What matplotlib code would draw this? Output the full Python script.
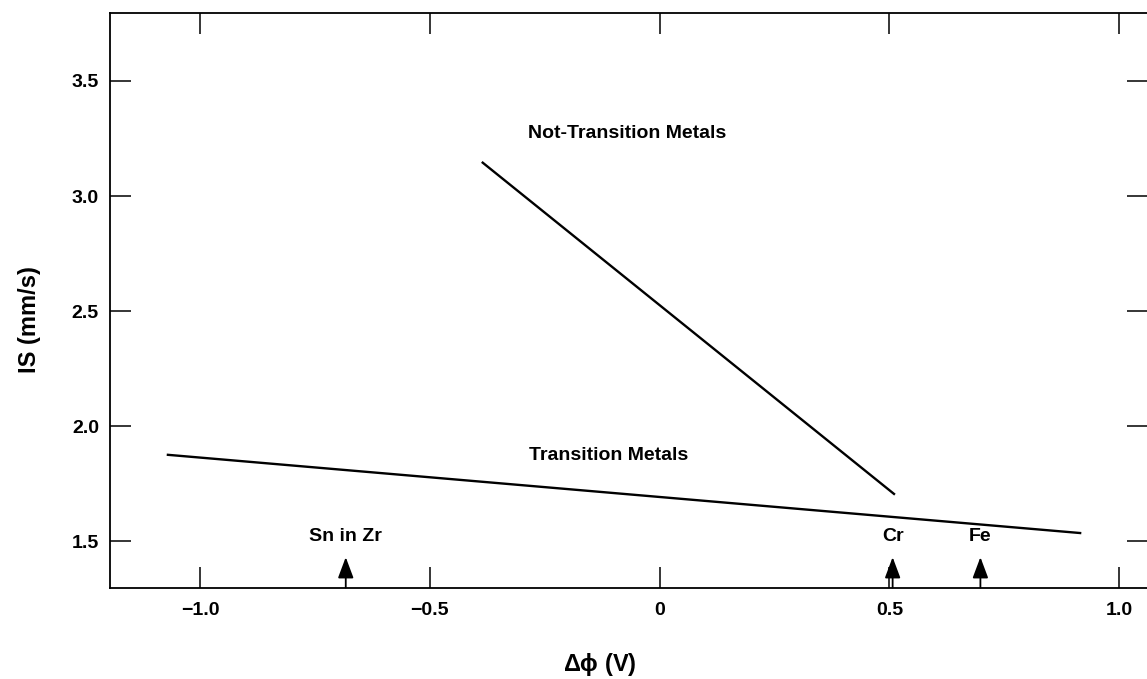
import matplotlib
matplotlib.use('Agg')
import matplotlib.pyplot as plt

plt.rcParams.update({
    'font.family': ['Liberation Sans Narrow', 'Liberation Sans', 'DejaVu Sans'],
    'font.weight': 'bold',
    'mathtext.fontset': 'dejavusans',
})

# line endpoints
trans_x = [-1.07, 0.915]
trans_y = [1.875, 1.535]
nontrans_x = [-0.385, 0.51]
nontrans_y = [3.145, 1.705]

# marked elements on the x axis
markers = ['Sn in Zr', 'Cr', 'Fe']
marker_x = [-0.683, 0.507, 0.698]

xticks = [-1.0, -0.5, 0.0, 0.5, 1.0]
xticklabels = ['\u22121.0', '\u22120.5', '0', '0.5', '1.0']
yticks = [1.5, 2.0, 2.5, 3.0, 3.5]

fig = plt.figure(figsize=(11.47, 6.79), dpi=100)
ax = fig.add_axes([0.0959, 0.134, 0.9051, 0.847])
ax.set_xlim(-1.196, 1.063)
ax.set_ylim(1.296, 3.796)

ax.plot(trans_x, trans_y, color='black', lw=1.7)
ax.plot(nontrans_x, nontrans_y, color='black', lw=1.7)

ax.text(-0.07, 3.27, 'Not-Transition Metals', ha='center', va='center',
        fontsize=14, fontweight='bold')
ax.text(-0.11, 1.87, 'Transition Metals', ha='center', va='center',
        fontsize=14, fontweight='bold')

for name, mx in zip(markers, marker_x):
    ax.annotate('', xy=(mx, 1.43), xytext=(mx, 1.298),
                arrowprops=dict(arrowstyle='-|>,head_length=0.8,head_width=0.3',
                                color='black', lw=1.3,
                                mutation_scale=16, shrinkA=0, shrinkB=0))
    ax.text(mx, 1.518, name, ha='center', va='center', fontsize=14,
            fontweight='bold')

ax.set_xticks(xticks)
ax.set_xticklabels(xticklabels)
ax.set_yticks(yticks)
ax.set_yticklabels([f'{v:.1f}' for v in yticks])
ax.tick_params(direction='in', length=15, width=1.1, labelsize=14,
               top=True, right=True, pad=10)
ax.tick_params(axis='y', pad=8)
for s in ax.spines.values():
    s.set_linewidth(1.3)

fig.text(0.026, 0.53, 'IS (mm/s)', rotation=90, ha='center', va='center',
         fontsize=17, fontweight='bold')
fig.text(0.523, 0.021, r'$\mathregular{\Delta\phi}$ (V)', ha='center',
         va='center', fontsize=17, fontweight='bold')

fig.savefig('out.png', dpi=100)
